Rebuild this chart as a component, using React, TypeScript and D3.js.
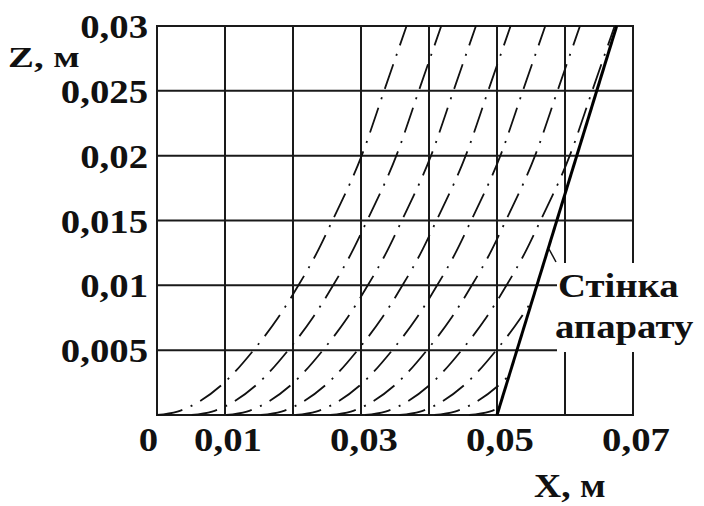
import React, { useEffect, useRef } from 'react';
import * as d3 from 'd3';

// axis grid and labels
const xGrid = [0, 0.01, 0.02, 0.03, 0.04, 0.05, 0.06, 0.07];
const yGrid = [0, 0.005, 0.01, 0.015, 0.02, 0.025, 0.03];
const xTicks = [0, 0.01, 0.03, 0.05, 0.07];
const xTickLabels = ['0', '0,01', '0,03', '0,05', '0,07'];
const yTicks = [0.005, 0.01, 0.015, 0.02, 0.025, 0.03];
const yTickLabels = ['0,005', '0,01', '0,015', '0,02', '0,025', '0,03'];

// trajectory shape and where each curve starts on the bottom
const profileDx = [0, 0.003, 0.0061, 0.0099, 0.0142, 0.0178, 0.0208, 0.0235, 0.0258, 0.0301, 0.0334, 0.0367];
const profileZ = [0, 0.00026, 0.001, 0.0025, 0.005, 0.0075, 0.01, 0.0125, 0.015, 0.02, 0.025, 0.03];
const curveStarts = [0, 0.0051, 0.0102, 0.0153, 0.0204, 0.0255, 0.0306, 0.0357, 0.0408, 0.0459];

// apparatus wall
const wallX = [0.05, 0.0676];
const wallZ = [0, 0.03];

const FONT = '"Liberation Serif", "Times New Roman", serif';
const STRETCH = 1.14;

export default function App() {
  const ref = useRef<SVGSVGElement>(null);

  useEffect(() => {
    const svg = d3.select(ref.current);
    svg.selectAll('*').remove();

    const x = d3.scaleLinear().domain([0, 0.07]).range([157, 633]);
    const y = d3.scaleLinear().domain([0, 0.03]).range([415, 26]);

    const addText = (tx: number, ty: number, str: string, anchor: string, size: number, len?: number) => {
      const t = svg
        .append('text')
        .attr('transform', `translate(${tx},${ty}) scale(${STRETCH},1)`)
        .attr('text-anchor', anchor)
        .style('font-family', FONT)
        .style('font-weight', 700)
        .style('font-size', size + 'px')
        .attr('fill', '#111')
        .text(str);
      if (len) t.attr('textLength', len).attr('lengthAdjust', 'spacingAndGlyphs');
    };

    // grid
    const grid = svg.append('g').attr('stroke', '#1a1a1a').attr('stroke-width', 2);
    grid
      .selectAll('line.v')
      .data(xGrid)
      .enter()
      .append('line')
      .attr('x1', (d) => x(d))
      .attr('x2', (d) => x(d))
      .attr('y1', y(0) + 1)
      .attr('y2', y(0.03) - 1);
    grid
      .selectAll('line.h')
      .data(yGrid)
      .enter()
      .append('line')
      .attr('x1', x(0) - 1)
      .attr('x2', x(0.07) + 1)
      .attr('y1', (d) => y(d))
      .attr('y2', (d) => y(d));

    // clip the trajectories at the wall
    const clipPts = [
      [x(0), y(0) + 2],
      [x(wallX[0]), y(0) + 2],
      [x(wallX[1]), y(wallZ[1])],
      [x(0), y(wallZ[1])],
    ];
    svg
      .append('defs')
      .append('clipPath')
      .attr('id', 'wallClip')
      .append('polygon')
      .attr('points', clipPts.map((p) => p.join(',')).join(' '));

    const line = d3
      .line<number[]>()
      .x((d) => x(d[0]))
      .y((d) => y(d[1]))
      .curve(d3.curveMonotoneX);

    svg
      .append('g')
      .attr('clip-path', 'url(#wallClip)')
      .selectAll('path')
      .data(curveStarts)
      .enter()
      .append('path')
      .attr('d', (s) => line(profileDx.map((dx, i) => [s + dx, profileZ[i]])))
      .attr('fill', 'none')
      .attr('stroke', '#111')
      .attr('stroke-width', 1.8)
      .attr('stroke-dasharray', '26 9 2 9');

    // wall
    svg
      .append('line')
      .attr('x1', x(wallX[0]))
      .attr('y1', y(wallZ[0]))
      .attr('x2', x(wallX[1]))
      .attr('y2', y(wallZ[1]))
      .attr('stroke', '#000')
      .attr('stroke-width', 3);

    // wall label on white background
    svg.append('rect').attr('x', 557).attr('y', 263).attr('width', 147).attr('height', 89).attr('fill', '#fff');
    svg
      .append('line')
      .attr('x1', 549)
      .attr('y1', 249)
      .attr('x2', 556)
      .attr('y2', 262)
      .attr('stroke', '#111')
      .attr('stroke-width', 1.5);
    addText(558, 297, 'Стінка', 'start', 34);
    addText(555, 338, 'апарату', 'start', 34);

    // tick labels
    yTicks.forEach((v, i) => addText(148, y(v) + 12, yTickLabels[i], 'end', 34));
    xTicks.forEach((v, i) =>
      i === 0 ? addText(x(v) + 1, 451, xTickLabels[i], 'end', 34) : addText(x(v) + 3, 451, xTickLabels[i], 'middle', 34)
    );

    // axis titles
    addText(8, 67, 'Z, м', 'start', 30, 63);
    addText(534, 497, 'X, м', 'start', 33);
  }, []);

  return (
    <svg
      ref={ref}
      width={704}
      height={506}
      style={{ position: 'absolute', left: 0, top: 0, background: '#fff' }}
    />
  );
}
